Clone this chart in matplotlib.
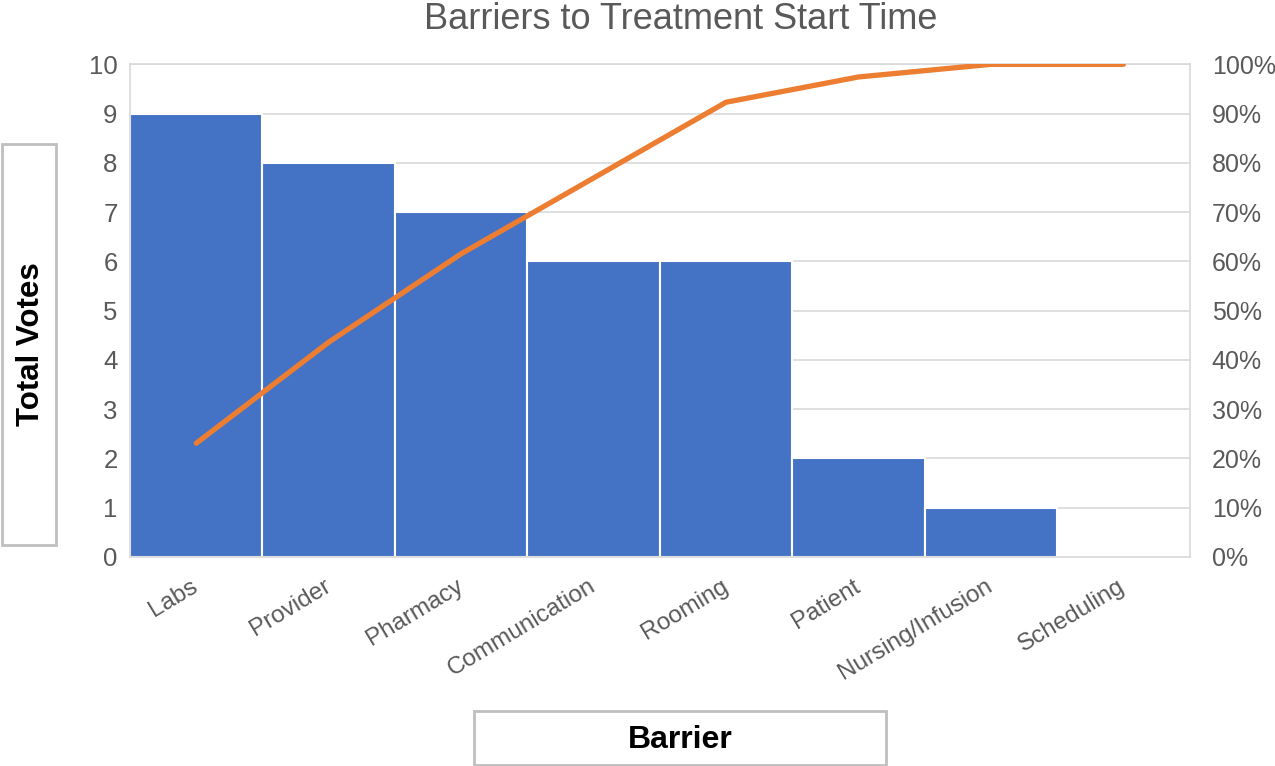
import matplotlib
matplotlib.use("Agg")
import matplotlib.pyplot as plt
from matplotlib.patches import Rectangle
from matplotlib.ticker import FuncFormatter
import numpy as np

barriers = ["Labs", "Provider", "Pharmacy", "Communication", "Rooming",
            "Patient", "Nursing/Infusion", "Scheduling"]
votes = [9, 8, 7, 6, 6, 2, 1, 0]

cum_pct = np.cumsum(votes) / np.sum(votes) * 100

plt.rcParams["font.family"] = ["Liberation Sans", "DejaVu Sans"]
TXT = "#595959"
GRID = "#d9d9d9"

fig = plt.figure(figsize=(12.75, 7.66), dpi=100)
ax = fig.add_axes([0.102, 0.273, 0.831, 0.643])

x = np.arange(len(barriers))
ax.bar(x, votes, width=1.0, color="#4472C4", edgecolor="white",
       linewidth=1.5, zorder=2)
ax.set_xlim(-0.5, len(barriers) - 0.5)
ax.set_ylim(0, 10)
ax.set_yticks(range(0, 11))
ax.grid(axis="y", color=GRID, linewidth=1.2, zorder=0)
for s in ax.spines.values():
    s.set_color(GRID)
    s.set_linewidth(1.2)
ax.tick_params(axis="y", length=0, labelsize=18.5, labelcolor=TXT, pad=9)
ax.tick_params(axis="x", length=0, pad=20)
ax.set_xticks(x)
ax.set_xticklabels(barriers, rotation=31, ha="right", va="center",
                   rotation_mode="anchor", fontsize=17.5, color=TXT)

ax2 = ax.twinx()
ax2.plot(x, cum_pct, color="#ED7D31", linewidth=3.8,
         solid_capstyle="round", zorder=3)
ax2.set_ylim(0, 100)
ax2.set_yticks(range(0, 101, 10))
ax2.yaxis.set_major_formatter(FuncFormatter(lambda v, p: f"{v:.0f}%"))
ax2.tick_params(axis="y", length=0, labelsize=18, labelcolor=TXT, pad=16)
for s in ax2.spines.values():
    s.set_visible(False)

fig.text(0.534, 0.975, "Barriers to Treatment Start Time", ha="center",
         va="center", fontsize=26, color=TXT)

# boxed axis titles
fig.patches.append(Rectangle((2 / 1275, 1 - 545 / 766), 54 / 1275, 401 / 766,
                             transform=fig.transFigure, facecolor="white",
                             edgecolor="#bfbfbf", linewidth=2))
fig.text(31 / 1275, 1 - 344 / 766, "Total Votes", rotation=90, ha="center",
         va="center", fontsize=22.5, fontweight="bold", color="black")

fig.patches.append(Rectangle((474 / 1275, 1 - 765 / 766), 412 / 1275, 54 / 766,
                             transform=fig.transFigure, facecolor="white",
                             edgecolor="#bfbfbf", linewidth=2))
fig.text(680 / 1275, 1 - 740 / 766, "Barrier", ha="center", va="center",
         fontsize=23, fontweight="bold", color="black")

fig.savefig("out.png", dpi=100)
